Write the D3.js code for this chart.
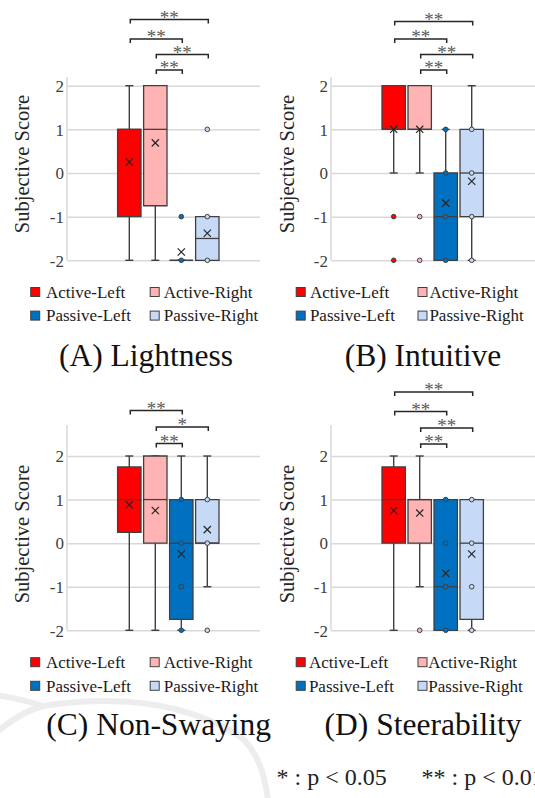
<!DOCTYPE html>
<html>
<head>
<meta charset="utf-8">
<script src="https://cdn.jsdelivr.net/npm/d3@7"></script>
<style>
  html, body { margin: 0; padding: 0; background: #fff; }
  svg { display: block; }
</style>
</head>
<body>
<svg id="chart" width="535" height="798"></svg>
<script>
// ---------- DATA ----------
const series = ["Active-Left", "Active-Right", "Passive-Left", "Passive-Right"];
const seriesColors = ["#FF0000", "#FFB3B3", "#0070C0", "#C6DAF8"];
const yTicks = [-2, -1, 0, 1, 2];
const yTickLabels = ["-2", "-1", "0", "1", "2"];
const panelTitles = ["(A) Lightness", "(B) Intuitive", "(C) Non-Swaying", "(D) Steerability"];

// (A) Lightness
const aQ1   = [-1, -0.75, -2, -2];
const aMed  = [1, 1, -2, -1.5];
const aQ3   = [1, 2, -2, -1];
const aLo   = [-2, -2, -2, -2];
const aHi   = [2, 2, -2, -1];
const aMean = [0.25, 0.69, -1.81, -1.38];
const aPts  = [[], [], [-1, -2], [1, -1, -2]];
const aSig  = [["Active-Right", "Passive-Left", "**"], ["Active-Right", "Passive-Right", "**"],
               ["Active-Left", "Passive-Left", "**"], ["Active-Left", "Passive-Right", "**"]];

// (B) Intuitive
const bQ1   = [1, 1, -2, -1];
const bMed  = [1, 1, -1, 0];
const bQ3   = [2, 2, 0, 1];
const bLo   = [0, 0, -2, -2];
const bHi   = [2, 2, 1, 2];
const bMean = [1.0, 1.0, -0.69, -0.19];
const bPts  = [[-1, -2], [-1, -2], [1, 0, -1, -2], [1, 0, -1, -2]];
const bSig  = [["Active-Right", "Passive-Left", "**"], ["Active-Right", "Passive-Right", "**"],
               ["Active-Left", "Passive-Left", "**"], ["Active-Left", "Passive-Right", "**"]];

// (C) Non-Swaying
const cQ1   = [0.25, 0, -1.75, 0];
const cMed  = [1, 1, 0, 0];
const cQ3   = [1.75, 2, 1, 1];
const cLo   = [-2, -2, -2, -1];
const cHi   = [2, 2, 2, 2];
const cMean = [0.88, 0.75, -0.25, 0.31];
const cPts  = [[], [], [1, 0, -1, -2], [1, 0, -2]];
const cSig  = [["Active-Right", "Passive-Left", "**"], ["Active-Right", "Passive-Right", "*"],
               ["Active-Left", "Passive-Left", "**"]];

// (D) Steerability
const dQ1   = [0, 0, -2, -1.75];
const dMed  = [1, 1, -1, 0];
const dQ3   = [1.75, 1, 1, 1];
const dLo   = [-2, -1, -2, -2];
const dHi   = [2, 2, 1, 1];
const dMean = [0.75, 0.69, -0.69, -0.25];
const dPts  = [[], [-2], [1, 0, -1, -2], [1, 0, -1, -2]];
const dSig  = [["Active-Right", "Passive-Left", "**"], ["Active-Right", "Passive-Right", "**"],
               ["Active-Left", "Passive-Left", "**"], ["Active-Left", "Passive-Right", "**"]];

const footnotes = ["* : p < 0.05", "** : p < 0.01"];

// ---------- LAYOUT ----------
const FONT = "'Liberation Serif', Tinos, 'Times New Roman', 'DejaVu Serif', serif";
const panelData = [
  {q1: aQ1, med: aMed, q3: aQ3, lo: aLo, hi: aHi, mean: aMean, pts: aPts, sig: aSig},
  {q1: bQ1, med: bMed, q3: bQ3, lo: bLo, hi: bHi, mean: bMean, pts: bPts, sig: bSig},
  {q1: cQ1, med: cMed, q3: cQ3, lo: cLo, hi: cHi, mean: cMean, pts: cPts, sig: cSig},
  {q1: dQ1, med: dMed, q3: dQ3, lo: dLo, hi: dHi, mean: dMean, pts: dPts, sig: dSig}
];
const layouts = [
  {gx0: 67, gx1: 260, band: [116.3, 220.3], yTop: 85.7, yBot: 260.3, axisTop: 2.2,
   bracketY: [70, 54.5, 39, 19.5], legY: 292, legSw: [30.7, 150.2], legTx: [46, 163.8],
   titleX: 146, titleY: 366, ylabX: 29},
  {gx0: 331, gx1: 535, band: [380.7, 484.7], yTop: 85.7, yBot: 260.3, axisTop: 2.2,
   bracketY: [70, 54.5, 39, 21.5], legY: 292, legSw: [296.2, 418], legTx: [309.9, 429.4],
   titleX: 423, titleY: 366, ylabX: 294},
  {gx0: 67, gx1: 260, band: [116.3, 220.3], yTop: 456, yBot: 630.3, axisTop: 2.71,
   bracketY: [443.5, 427, 410.5], legY: 662.2, legSw: [30.7, 150.2], legTx: [46, 163.8],
   titleX: 158.7, titleY: 735, ylabX: 29},
  {gx0: 331, gx1: 535, band: [380.7, 484.7], yTop: 456, yBot: 630.3, axisTop: 2.71,
   bracketY: [444, 428, 411.5, 392], legY: 662.2, legSw: [296.2, 418], legTx: [308.9, 428.3],
   titleX: 423, titleY: 735, ylabX: 294}
];

const svg = d3.select("#chart").attr("font-family", FONT);
const ink = "#404040";

// faint watermark arcs in background
const wm = svg.append("g").attr("fill", "none").attr("stroke", "#ededed").attr("stroke-width", 6)
  .attr("stroke-linecap", "round");
wm.append("path").attr("d", "M-5,695 Q22,699 43,706");
wm.append("path").attr("d", "M-5,734 Q18,713 43,706 Q160,688 238,735 Q262,752 268,800");

panelData.forEach((pd, pi) => {
  const L = layouts[pi];
  const g = svg.append("g").attr("font-family", FONT);
  const y = d3.scaleLinear().domain([-2, 2]).range([L.yBot, L.yTop]);
  const x = d3.scaleBand().domain(series).range(L.band).padding(0);
  const bw = x.bandwidth() * 0.9;
  const cx = s => x(s) + x.bandwidth() / 2;

  // gridlines
  g.append("g").attr("transform", `translate(${L.gx0},0)`)
    .call(d3.axisLeft(y).tickValues(yTicks).tickSize(-(L.gx1 - L.gx0)).tickFormat(""))
    .call(a => a.select(".domain").remove())
    .call(a => a.selectAll("line").attr("stroke", "#d9d9d9").attr("stroke-width", 1.5));

  // axis line
  g.append("line").attr("x1", L.gx0).attr("x2", L.gx0)
    .attr("y1", y(L.axisTop)).attr("y2", y(-2))
    .attr("stroke", "#d9d9d9").attr("stroke-width", 1.5);

  // tick labels
  g.append("g").attr("transform", `translate(${L.gx0},0)`)
    .call(d3.axisLeft(y).tickValues(yTicks).tickSize(0).tickPadding(3)
      .tickFormat((d, i) => yTickLabels[i]))
    .call(a => a.attr("font-family", FONT).attr("font-size", 17))
    .call(a => a.select(".domain").remove())
    .call(a => a.selectAll("text").attr("font-family", FONT)
      .attr("font-size", 17).attr("fill", ink).attr("dy", "0.34em"));

  // y label
  g.append("text")
    .attr("transform", `translate(${L.ylabX},${(L.yTop + L.yBot) / 2 - 9}) rotate(-90)`)
    .attr("text-anchor", "middle").attr("font-size", 20.5).attr("fill", "#262626")
    .attr("font-family", FONT)
    .text("Subjective Score");

  // boxes
  series.forEach((s, i) => {
    const c = cx(s);
    const bg = g.append("g");
    bg.append("line").attr("x1", c).attr("x2", c)
      .attr("y1", y(pd.lo[i])).attr("y2", y(pd.hi[i]))
      .attr("stroke", ink).attr("stroke-width", 1.4);
    [pd.lo[i], pd.hi[i]].forEach(v => {
      bg.append("line").attr("x1", c - 4).attr("x2", c + 4)
        .attr("y1", y(v)).attr("y2", y(v))
        .attr("stroke", ink).attr("stroke-width", 1.4);
    });
    const xl = c - bw / 2, xr = c + bw / 2;
    bg.append("path")
      .attr("d", `M${xl},${y(pd.q3[i])}H${xr}V${y(pd.q1[i])}H${xl}Z`)
      .attr("fill", seriesColors[i]).attr("stroke", ink).attr("stroke-width", 1.3);
    bg.append("line").attr("x1", xl).attr("x2", xr)
      .attr("y1", y(pd.med[i])).attr("y2", y(pd.med[i]))
      .attr("stroke", ink).attr("stroke-width", 1.3);
    pd.pts[i].forEach(v => {
      bg.append("circle").attr("cx", c).attr("cy", y(v)).attr("r", 2.3)
        .attr("fill", seriesColors[i]).attr("stroke", ink).attr("stroke-width", 1);
    });
    const my = y(pd.mean[i]), m = 3.6;
    bg.append("path")
      .attr("d", `M${c - m},${my - m}L${c + m},${my + m}M${c - m},${my + m}L${c + m},${my - m}`)
      .attr("stroke", "#262626").attr("stroke-width", 1.2).attr("fill", "none");
  });

  // significance brackets
  pd.sig.forEach((sg, k) => {
    const by = L.bracketY[k];
    const xa = cx(sg[0]) + 1, xb = cx(sg[1]) + 1;
    g.append("path").attr("d", `M${xa},${by + 4}V${by}H${xb}V${by + 4}`)
      .attr("fill", "none").attr("stroke", "#262626").attr("stroke-width", 1.5);
    g.append("text").attr("x", (xa + xb) / 2).attr("y", by + 4)
      .attr("text-anchor", "middle").attr("font-size", 19).attr("fill", "#595959")
      .attr("font-family", FONT)
      .text(sg[2]);
  });

  // legend
  series.forEach((s, i) => {
    const col = i % 2, row = Math.floor(i / 2);
    const yy = L.legY + row * 23.6;
    g.append("rect").attr("x", L.legSw[col]).attr("y", yy - 4.5).attr("width", 9).attr("height", 9)
      .attr("fill", seriesColors[i]).attr("stroke", ink).attr("stroke-width", 1);
    g.append("text").attr("x", L.legTx[col]).attr("y", yy + 5.8)
      .attr("font-size", 17).attr("fill", "#1a1a1a").attr("font-family", FONT).text(s);
  });

  // title
  g.append("text").attr("x", L.titleX).attr("y", L.titleY)
    .attr("text-anchor", "middle").attr("font-size", 31.5).attr("fill", "#111")
    .attr("font-family", FONT)
    .text(panelTitles[pi]);
});

// footnotes (the second one runs past the right edge, as in the reference)
svg.append("text").attr("x", 276.5).attr("y", 785).attr("font-size", 24).attr("fill", "#222")
  .attr("font-family", FONT).text(footnotes[0]);
svg.append("text").attr("x", 421.5).attr("y", 785).attr("font-size", 24).attr("fill", "#222")
  .attr("font-family", FONT).text(footnotes[1]);
</script>
</body>
</html>
